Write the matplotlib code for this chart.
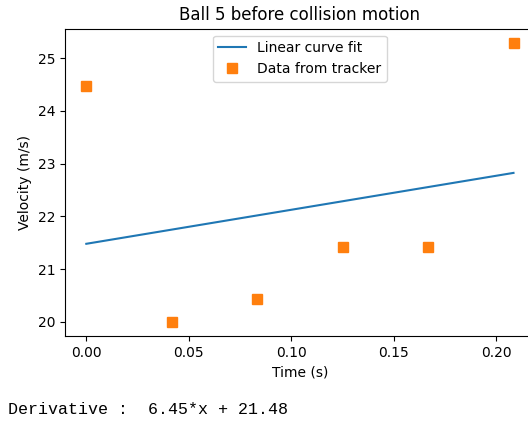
import numpy as np
import matplotlib
matplotlib.use("Agg")
import matplotlib.pyplot as plt

# data read from the tracker (time in s, velocity in m/s)
time_s = [0.0, 0.0417, 0.0833, 0.125, 0.1667, 0.2083]
velocity = [24.47, 20.0, 20.43, 21.42, 21.42, 25.29]

# linear fit coefficients shown under the plot
slope = 6.45
intercept = 21.48

fig = plt.figure(figsize=(5.28, 4.23), dpi=100)
# axes run past the right edge, like the cropped notebook output
ax = fig.add_axes([0.123, 0.206, 0.890, 0.726])

t = np.array(time_s)
ax.plot(t, slope * t + intercept, color="C0", label="Linear curve fit")
ax.plot(time_s, velocity, "s", color="C1", markersize=7, label="Data from tracker")

ax.set_title("Ball 5 before collision motion", fontsize=12)
ax.set_xlabel("Time (s)")
ax.set_ylabel("Velocity (m/s)")
ax.legend(loc="upper center")

fig.text(0.015, 0.033, "Derivative :  %.2f*x + %.2f" % (slope, intercept),
         family="Liberation Mono", fontsize=12, va="center", ha="left")

fig.savefig("out.png", dpi=100)
